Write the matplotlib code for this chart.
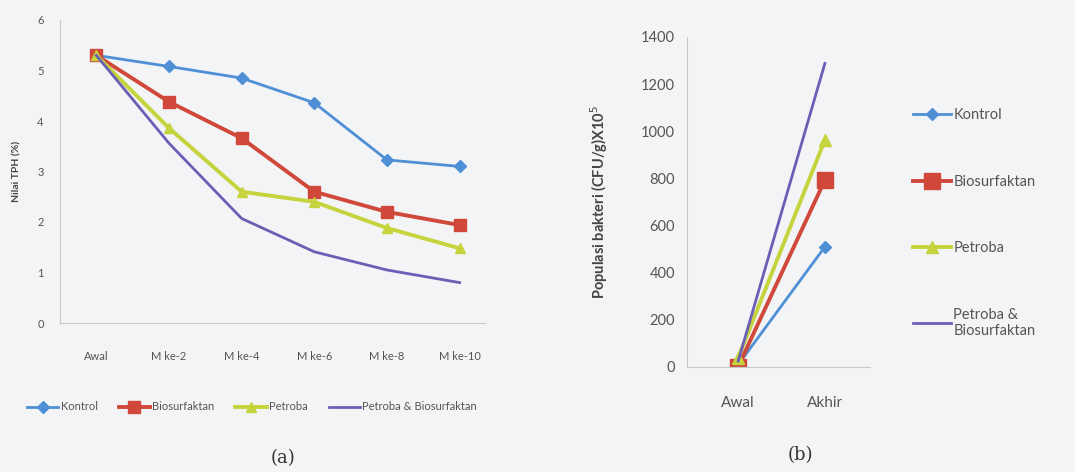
import matplotlib.pyplot as plt
import numpy as np

# data panel (a): Nilai TPH (%)
minggu = ["Awal", "M ke-2", "M ke-4", "M ke-6", "M ke-8", "M ke-10"]
tph_kontrol = [5.3, 5.08, 4.85, 4.36, 3.23, 3.1]
tph_bios = [5.3, 4.38, 3.66, 2.6, 2.2, 1.94]
tph_petroba = [5.3, 3.86, 2.6, 2.4, 1.88, 1.48]
tph_pb = [5.3, 3.56, 2.07, 1.41, 1.05, 0.8]

# data panel (b): populasi bakteri
waktu = ["Awal", "Akhir"]
pop_kontrol = [10, 510]
pop_bios = [2, 793]
pop_petroba = [40, 963]
pop_pb = [25, 1288]

nama = ["Kontrol", "Biosurfaktan", "Petroba", "Petroba & Biosurfaktan"]
warna = ["#4f8fd6", "#d0483a", "#c5d43c", "#6b5fb5"]
penanda = ["D", "s", "^", None]

plt.rcParams['font.family'] = ['Lato', 'DejaVu Sans']
bg = "#f3f4f6"
teks = "#555555"

fig = plt.figure(figsize=(10.75, 4.72), dpi=100, facecolor=bg)

# ---- panel (a)
ax1 = fig.add_axes([60/1075, 1-323/472, 425/1075, 303/472], facecolor=bg)
x1 = np.arange(len(minggu))
series1 = [tph_kontrol, tph_bios, tph_petroba, tph_pb]
lw1 = [2, 2.8, 2.8, 2]
ms1 = [6, 8, 7, 0]
for i, s in enumerate(series1):
    ax1.plot(x1, s, color=warna[i], lw=lw1[i], marker=penanda[i], ms=ms1[i],
             label=nama[i])
ax1.set_xlim(-0.5, 5.35)
ax1.set_ylim(0, 6)
ax1.set_yticks(range(0, 7))
ax1.set_xticks(x1)
ax1.set_xticklabels(minggu)
ax1.tick_params(axis='x', length=0, pad=20, labelsize=8, colors=teks)
ax1.tick_params(axis='y', length=0, pad=14, labelsize=8, colors=teks)
for t in ax1.get_yticklabels():
    t.set_horizontalalignment('center')
ax1.set_ylabel("Nilai TPH (%)", fontsize=7.5, fontweight='bold', color="#444444")
ax1.yaxis.set_label_coords(-0.09, 0.5)
for sp in ["top", "right"]:
    ax1.spines[sp].set_visible(False)
for sp in ["left", "bottom"]:
    ax1.spines[sp].set_color("#c8c8c8")

fig.legend(*ax1.get_legend_handles_labels(), loc='center',
           bbox_to_anchor=(252/1075, 1-407/472), ncol=4, frameon=False,
           fontsize=8, handlelength=2.8, columnspacing=1.9, handletextpad=0.2,
           labelcolor=teks)
fig.text(283/1075, 1-458/472, "(a)", ha='center', va='center',
         fontsize=13, family='DejaVu Serif', color="#333333")

# ---- panel (b)
ax2 = fig.add_axes([687/1075, 1-367/472, 183/1075, 330/472], facecolor=bg)
x2 = np.arange(len(waktu))
series2 = [pop_kontrol, pop_bios, pop_petroba, pop_pb]
lw2 = [2, 2.8, 2.8, 2]
ms2 = [6, 11, 8, 0]
for i, s in enumerate(series2):
    ax2.plot(x2, s, color=warna[i], lw=lw2[i], marker=penanda[i], ms=ms2[i],
             label=nama[i].replace("& ", "&\n"))
ax2.set_xlim(-0.59, 1.52)
ax2.set_ylim(0, 1400)
ax2.set_yticks(range(0, 1401, 200))
ax2.set_xticks(x2)
ax2.set_xticklabels(waktu)
ax2.tick_params(axis='x', length=0, pad=21, labelsize=11, colors=teks)
ax2.tick_params(axis='y', length=0, pad=8.5, labelsize=10.5, colors=teks)
ax2.set_ylabel("Populasi bakteri (CFU/g)X10$^{5}$", fontsize=10.5,
               fontweight='bold', color="#444444")
ax2.yaxis.set_label_coords(-0.42, 0.5)
for sp in ["top", "right"]:
    ax2.spines[sp].set_visible(False)
for sp in ["left", "bottom"]:
    ax2.spines[sp].set_color("#c8c8c8")

ax2.legend(loc='upper left', bbox_to_anchor=(900/1075, 1-95/472),
           bbox_transform=fig.transFigure, frameon=False, fontsize=10.5,
           handlelength=2.6, handletextpad=0.15, labelspacing=3.6,
           labelcolor=teks)
fig.text(800/1075, 1-455/472, "(b)", ha='center', va='center',
         fontsize=13, family='DejaVu Serif', color="#333333")

fig.savefig("out.png", dpi=100, facecolor=bg)
